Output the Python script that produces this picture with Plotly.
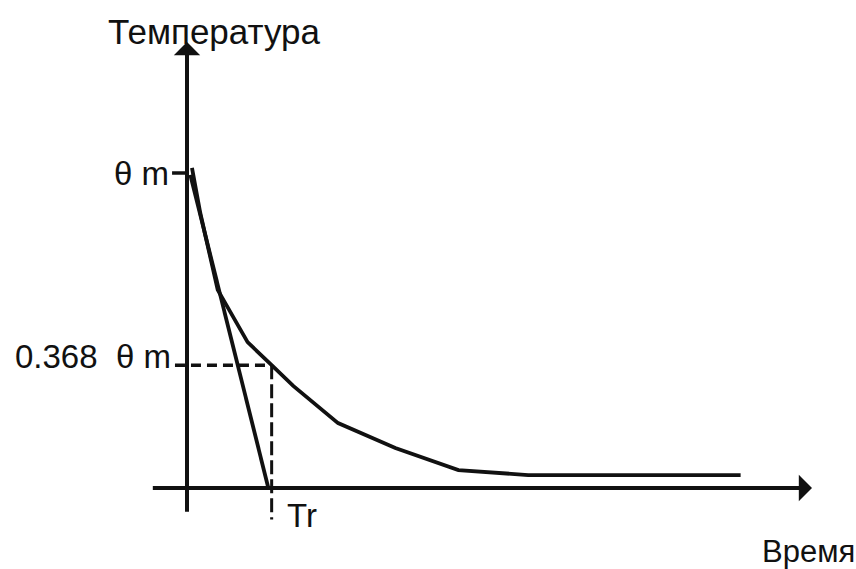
import plotly.graph_objects as go

# curve (time in units of Tr, temperature in units of theta m)
curve_t = [0.06, 0.16, 0.37, 0.73, 1.02, 1.28, 1.82, 2.51, 3.27, 4.11, 6.67]
curve_temp = [1.016, 0.873, 0.629, 0.463, 0.390, 0.324, 0.206, 0.127, 0.057, 0.041, 0.041]

# tangent at the start
tangent_t = [0.04, 0.98]
tangent_temp = [0.994, 0.0]

# dashed guides for Tr and 0.368 theta m
guide_h_t = [-0.145, 1.02]
guide_h_temp = [0.39, 0.39]
guide_v_t = [1.02, 1.02]
guide_v_temp = [0.39, -0.10]

# small tick at theta m
tick_t = [-0.18, 0.0]
tick_temp = [1.0, 1.0]

# axes (start, arrow tip)
x_axis_t = [-0.43, 7.53]
x_axis_temp = [0.0, 0.0]
y_axis_t = [0.0, 0.0]
y_axis_temp = [-0.08, 1.416]

labels = ["Температура", "θ m", "0.368  θ m", "Tr", "Время"]
label_t = [-0.976, -0.193, -2.096, 1.18, 6.90]
label_temp = [1.45, 0.997, 0.419, -0.086, -0.203]
label_anchor = ["left", "right", "left", "left", "left"]
label_size = [35, 33, 33, 33, 31]

ink = "#111111"

fig = go.Figure()

fig.add_trace(go.Scatter(x=curve_t, y=curve_temp, mode="lines",
                         line=dict(color=ink, width=3.8)))
fig.add_trace(go.Scatter(x=tangent_t, y=tangent_temp, mode="lines",
                         line=dict(color=ink, width=3.8)))
fig.add_trace(go.Scatter(x=guide_h_t, y=guide_h_temp, mode="lines",
                         line=dict(color=ink, width=3.5, dash="10px,6px")))
fig.add_trace(go.Scatter(x=guide_v_t, y=guide_v_temp, mode="lines",
                         line=dict(color=ink, width=3, dash="14px,5px")))
fig.add_trace(go.Scatter(x=tick_t, y=tick_temp, mode="lines",
                         line=dict(color=ink, width=3.5)))

# axes with arrow heads
for xs, ys in [(x_axis_t, x_axis_temp), (y_axis_t, y_axis_temp)]:
    fig.add_annotation(x=xs[1], y=ys[1], ax=xs[0], ay=ys[0],
                       xref="x", yref="y", axref="x", ayref="y",
                       text="", showarrow=True, arrowhead=1,
                       arrowsize=1.1, arrowwidth=4, arrowcolor=ink, standoff=0)

for txt, tx, ty, anc, sz in zip(labels, label_t, label_temp, label_anchor, label_size):
    fig.add_annotation(x=tx, y=ty, text=txt, showarrow=False,
                       xanchor=anc, yanchor="middle",
                       font=dict(family="Liberation Sans, Arial, sans-serif",
                                 size=sz, color=ink))

fig.update_xaxes(range=[-187 / 83, 669 / 83], visible=False)
fig.update_yaxes(range=[-81 / 315, 488 / 315], visible=False)
fig.update_layout(
    width=856, height=569,
    margin=dict(l=0, r=0, t=0, b=0),
    showlegend=False,
    plot_bgcolor="white", paper_bgcolor="white",
)

fig.write_html("out.html", config={"displayModeBar": False},
               post_script="document.body.style.margin='0';")
